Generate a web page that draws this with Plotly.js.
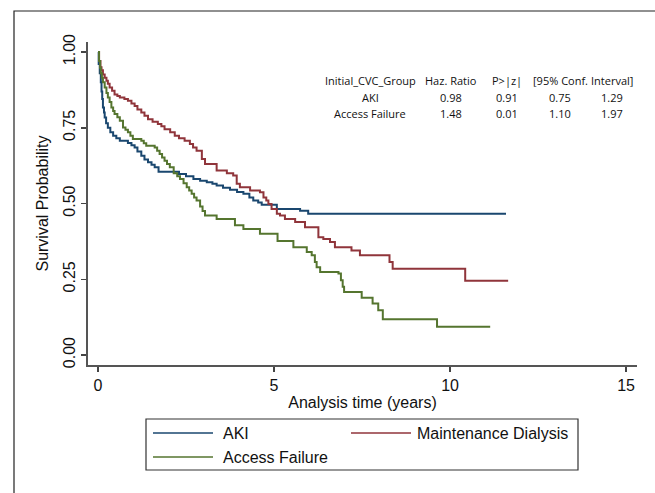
<!DOCTYPE html>
<html>
<head>
<meta charset="utf-8">
<script src="https://cdn.plot.ly/plotly-3.0.1.min.js"></script>
<style>html,body{margin:0;padding:0;background:#fff;}#chart{width:655px;height:493px;}</style>
</head>
<body>
<div id="chart"></div>
<script>
// ---- Data ----
const seriesNames = ["AKI", "Maintenance Dialysis", "Access Failure"];
const seriesColors = ["#1a476f", "#90353b", "#55752f"];

const akiTime = [0, 0.02, 0.05, 0.08, 0.1, 0.12, 0.14, 0.17, 0.19, 0.23, 0.28, 0.35, 0.43, 0.52, 0.62, 0.85, 0.95, 1.04, 1.12, 1.23, 1.32, 1.42, 1.52, 1.61, 1.72, 2.3, 2.5, 2.71, 2.9, 3.09, 3.25, 3.37, 3.55, 3.75, 3.95, 4.13, 4.3, 4.41, 4.55, 4.65, 5.08, 5.74, 5.97, 11.59];
const akiSurv = [1, 0.96, 0.93, 0.90, 0.87, 0.845, 0.817, 0.80, 0.784, 0.765, 0.75, 0.735, 0.724, 0.715, 0.707, 0.70, 0.692, 0.685, 0.672, 0.658, 0.645, 0.636, 0.628, 0.62, 0.605, 0.597, 0.59, 0.581, 0.575, 0.57, 0.565, 0.559, 0.552, 0.545, 0.538, 0.532, 0.52, 0.51, 0.503, 0.496, 0.482, 0.476, 0.466, 0.466];

const mdTime = [0, 0.03, 0.07, 0.1, 0.14, 0.19, 0.24, 0.28, 0.33, 0.4, 0.47, 0.55, 0.62, 0.75, 0.85, 0.95, 1.04, 1.12, 1.23, 1.32, 1.42, 1.55, 1.70, 1.8, 1.89, 2.05, 2.18, 2.3, 2.46, 2.61, 2.7, 2.80, 2.95, 3.04, 3.37, 3.66, 3.84, 3.94, 4.03, 4.32, 4.60, 4.70, 4.78, 4.84, 4.93, 5.08, 5.17, 5.31, 5.60, 5.88, 6.26, 6.40, 6.59, 6.73, 7.2, 7.44, 8.28, 8.37, 10.43, 11.65];
const mdSurv = [1, 0.97, 0.95, 0.94, 0.926, 0.915, 0.905, 0.895, 0.883, 0.872, 0.86, 0.855, 0.85, 0.845, 0.839, 0.83, 0.822, 0.81, 0.80, 0.79, 0.778, 0.77, 0.762, 0.755, 0.745, 0.735, 0.724, 0.715, 0.707, 0.696, 0.685, 0.674, 0.647, 0.63, 0.609, 0.60, 0.592, 0.565, 0.554, 0.543, 0.537, 0.52, 0.51, 0.498, 0.482, 0.466, 0.46, 0.449, 0.439, 0.422, 0.389, 0.383, 0.373, 0.356, 0.345, 0.329, 0.307, 0.285, 0.245, 0.245];

const afTime = [0, 0.03, 0.06, 0.08, 0.11, 0.14, 0.19, 0.24, 0.28, 0.33, 0.38, 0.43, 0.47, 0.55, 0.62, 0.71, 0.78, 0.85, 0.92, 0.99, 1.23, 1.30, 1.37, 1.61, 1.68, 1.75, 1.82, 1.89, 1.96, 2.04, 2.15, 2.25, 2.33, 2.43, 2.52, 2.59, 2.66, 2.73, 2.80, 2.90, 2.97, 3.04, 3.37, 3.89, 4.13, 4.6, 5.1, 5.55, 5.93, 6.07, 6.16, 6.21, 6.31, 6.83, 6.9, 6.95, 6.99, 7.49, 7.8, 7.96, 8.09, 9.63, 11.14];
const afSurv = [1, 0.97, 0.948, 0.93, 0.915, 0.90, 0.883, 0.865, 0.85, 0.835, 0.817, 0.805, 0.795, 0.785, 0.773, 0.751, 0.743, 0.735, 0.724, 0.713, 0.707, 0.699, 0.691, 0.685, 0.674, 0.663, 0.652, 0.641, 0.63, 0.62, 0.60, 0.59, 0.581, 0.567, 0.554, 0.543, 0.532, 0.52, 0.51, 0.49, 0.475, 0.46, 0.449, 0.428, 0.416, 0.40, 0.376, 0.356, 0.34, 0.329, 0.307, 0.29, 0.274, 0.269, 0.247, 0.225, 0.208, 0.189, 0.17, 0.148, 0.118, 0.093, 0.093];

const yTickVals = [0, 0.25, 0.5, 0.75, 1];
const yTickText = ["0.00", "0.25", "0.50", "0.75", "1.00"];
const xTickVals = [0, 5, 10, 15];

const tableHeader = ["Initial_CVC_Group", "Haz. Ratio", "P>|z|", "[95% Conf.", "Interval]"];
const tableRowAKI = ["AKI", "0.98", "0.91", "0.75", "1.29"];
const tableRowAF = ["Access Failure", "1.48", "0.01", "1.10", "1.97"];

// ---- Layout geometry ----
const W = 655, H = 493;
const M = {l: 88, r: 18, t: 42, b: 128};
const PW = W - M.l - M.r, PH = H - M.t - M.b;
const px = x => (x - M.l) / PW;
const py = y => (H - M.b - y) / PH;

const traces = [
  {x: akiTime, y: akiSurv, name: seriesNames[0], color: seriesColors[0]},
  {x: mdTime, y: mdSurv, name: seriesNames[1], color: seriesColors[1]},
  {x: afTime, y: afSurv, name: seriesNames[2], color: seriesColors[2]}
].map(s => ({
  type: "scatter", mode: "lines", x: s.x, y: s.y, name: s.name,
  line: {color: s.color, width: 2, shape: "hv"}, showlegend: false, hoverinfo: "skip"
}));

const annotations = [];
const colX = [370, 451, 507, 560, 612];
const rowY = [80, 97, 113];
[tableHeader, tableRowAKI, tableRowAF].forEach((row, ri) => {
  row.forEach((txt, ci) => {
    annotations.push({
      xref: "paper", yref: "paper", x: px(colX[ci]), y: py(rowY[ri]),
      xanchor: "center", yanchor: "middle", showarrow: false,
      text: txt.replace(/</g, "&lt;").replace(/>/g, "&gt;"),
      font: {family: "Open Sans, Liberation Sans, sans-serif", size: 11, color: "#111"}
    });
  });
});

// Legend (drawn as a box of line samples and labels)
const legendItems = [
  {name: seriesNames[0], color: seriesColors[0], lx: 153, tx: 221, y: 433},
  {name: seriesNames[1], color: seriesColors[1], lx: 351, tx: 415, y: 433},
  {name: seriesNames[2], color: seriesColors[2], lx: 153, tx: 221, y: 457}
];
const shapes = [
  {type: "rect", xref: "paper", yref: "paper", x0: px(14), x1: px(670), y0: py(510), y1: py(11),
   line: {color: "#222", width: 1.2}, fillcolor: "rgba(0,0,0,0)", layer: "below"},
  {type: "rect", xref: "paper", yref: "paper", x0: px(146), x1: px(578), y0: py(470), y1: py(419),
   line: {color: "#333", width: 1.2}, fillcolor: "rgba(0,0,0,0)"}
];
legendItems.forEach(it => {
  shapes.push({type: "line", xref: "paper", yref: "paper", x0: px(it.lx), x1: px(it.lx + 60),
    y0: py(it.y), y1: py(it.y), line: {color: it.color, width: 1.5}});
  annotations.push({xref: "paper", yref: "paper", x: px(it.tx), y: py(it.y), xanchor: "left", yanchor: "middle",
    showarrow: false, text: it.name, font: {family: "Liberation Sans, Arial, sans-serif", size: 16, color: "#111"}});
});

const axisFont = {family: "Liberation Sans, Arial, sans-serif", size: 16, color: "#111"};

const layout = {
  width: W, height: H,
  margin: M,
  paper_bgcolor: "#fff", plot_bgcolor: "#fff",
  showlegend: false,
  font: axisFont,
  xaxis: {
    range: [-0.284, 15.31], tickvals: xTickVals, ticks: "outside", ticklen: 5, tickwidth: 1.5, tickcolor: "#444",
    showline: true, linecolor: "#555", linewidth: 2, showgrid: false, zeroline: false,
    tickfont: axisFont,
    title: {text: "Analysis time (years)", font: axisFont, standoff: 4}
  },
  yaxis: {
    range: [-0.033, 1.033], tickvals: yTickVals, ticktext: yTickText, tickangle: -90,
    ticks: "outside", ticklen: 5, tickwidth: 1.5, tickcolor: "#444",
    showline: true, linecolor: "#555", linewidth: 2, showgrid: false, zeroline: false,
    tickfont: axisFont,
    title: {text: "Survival Probability", font: axisFont, standoff: 8}
  },
  shapes: shapes,
  annotations: annotations
};

Plotly.newPlot("chart", traces, layout, {displayModeBar: false, staticPlot: true});
</script>
</body>
</html>
